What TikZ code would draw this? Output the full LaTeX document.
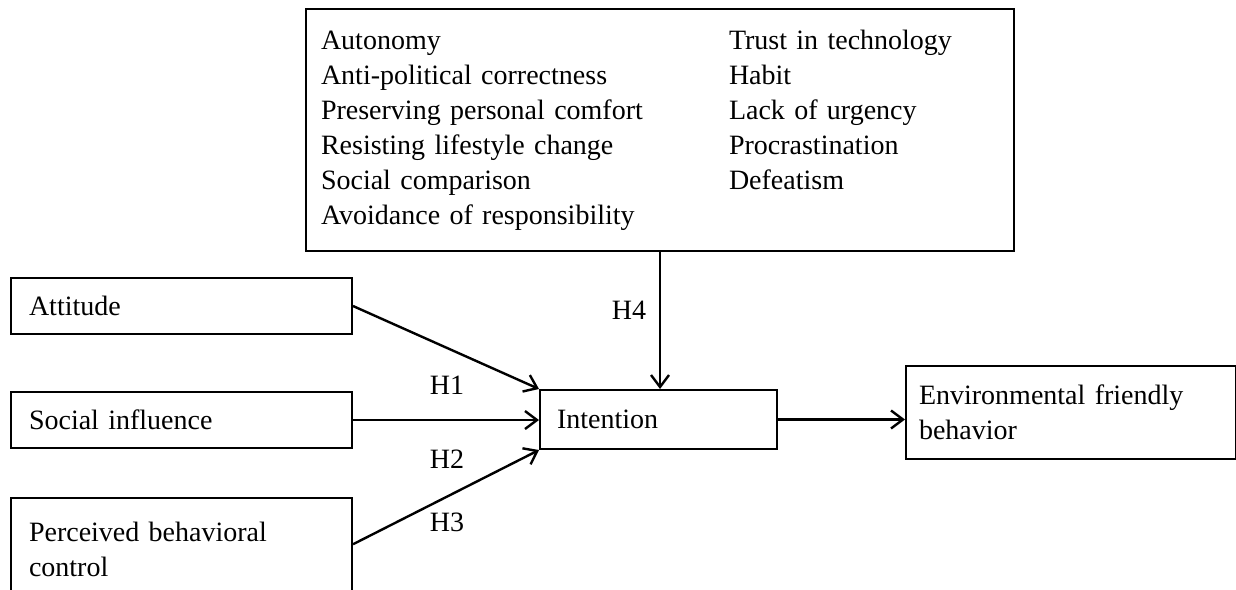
\documentclass[tikz,border=0pt]{standalone}
\usepackage{fontspec}
\setmainfont{Liberation Serif}
\usetikzlibrary{arrows.meta,calc}

\tikzset{
  construct/.style={draw, line width=1pt, rectangle, anchor=north west, align=left,
    inner ysep=0pt, font=\fontsize{14}{17.5}\selectfont},
  path link/.style={-{Straight Barb[length=6pt,width=9pt]}, line width=1.2pt},
  hlabel/.style={font=\fontsize{14}{17.5}\selectfont}
}

\begin{document}
\begin{tikzpicture}[x=0.5pt,y=-0.5pt]
    \useasboundingbox (0,0) rectangle (1236,589);
    \clip (0,0) rectangle (1236,589);

    \node[construct, inner xsep=7.5pt, text width=339pt, minimum height=121pt] (barriers) at (305,8)
      {\begin{tabular}{@{}p{204pt}@{}l@{}}
        Autonomy & Trust in technology\\
        Anti-political correctness & Habit\\
        Preserving personal comfort & Lack of urgency\\
        Resisting lifestyle change & Procrastination\\
        Social comparison & Defeatism\\
        Avoidance of responsibility &
      \end{tabular}};
    \node[construct, inner xsep=9pt, text width=152.5pt, minimum height=28pt] (attitude) at (10,277) {Attitude};
    \node[construct, inner xsep=9pt, text width=152.5pt, minimum height=28pt] (social) at (10,391) {Social influence};
    \node[construct, inner xsep=9pt, text width=152.5pt, minimum height=51.5pt] (pbc) at (10,497) {Perceived behavioral\\control};
    \node[construct, inner xsep=8.5pt, text width=101.5pt, minimum height=29.5pt] (intention) at (539,389) {Intention};
    \node[construct, inner xsep=6.5pt, text width=152pt, minimum height=46.5pt] (behavior) at (905,365) {Environmental friendly\\behavior};

    \draw[path link] (attitude.east) -- (intention.north west);
    \draw[path link] (social.east) -- (social.east -| intention.west);
    \draw[path link] ($(pbc.north east)!0.45!(pbc.south east)$) -- (intention.south west);
    \draw[path link] (barriers.south) -- (barriers.south |- intention.north);
    \draw[path link] (intention.east) -- (intention.east -| behavior.west);

    \node[hlabel] (h1) at (447,385) {H1};
    \node[hlabel] (h2) at (447,459) {H2};
    \node[hlabel] (h3) at (447,522) {H3};
    \node[hlabel] (h4) at (629,310) {H4};
\end{tikzpicture}
\end{document}
